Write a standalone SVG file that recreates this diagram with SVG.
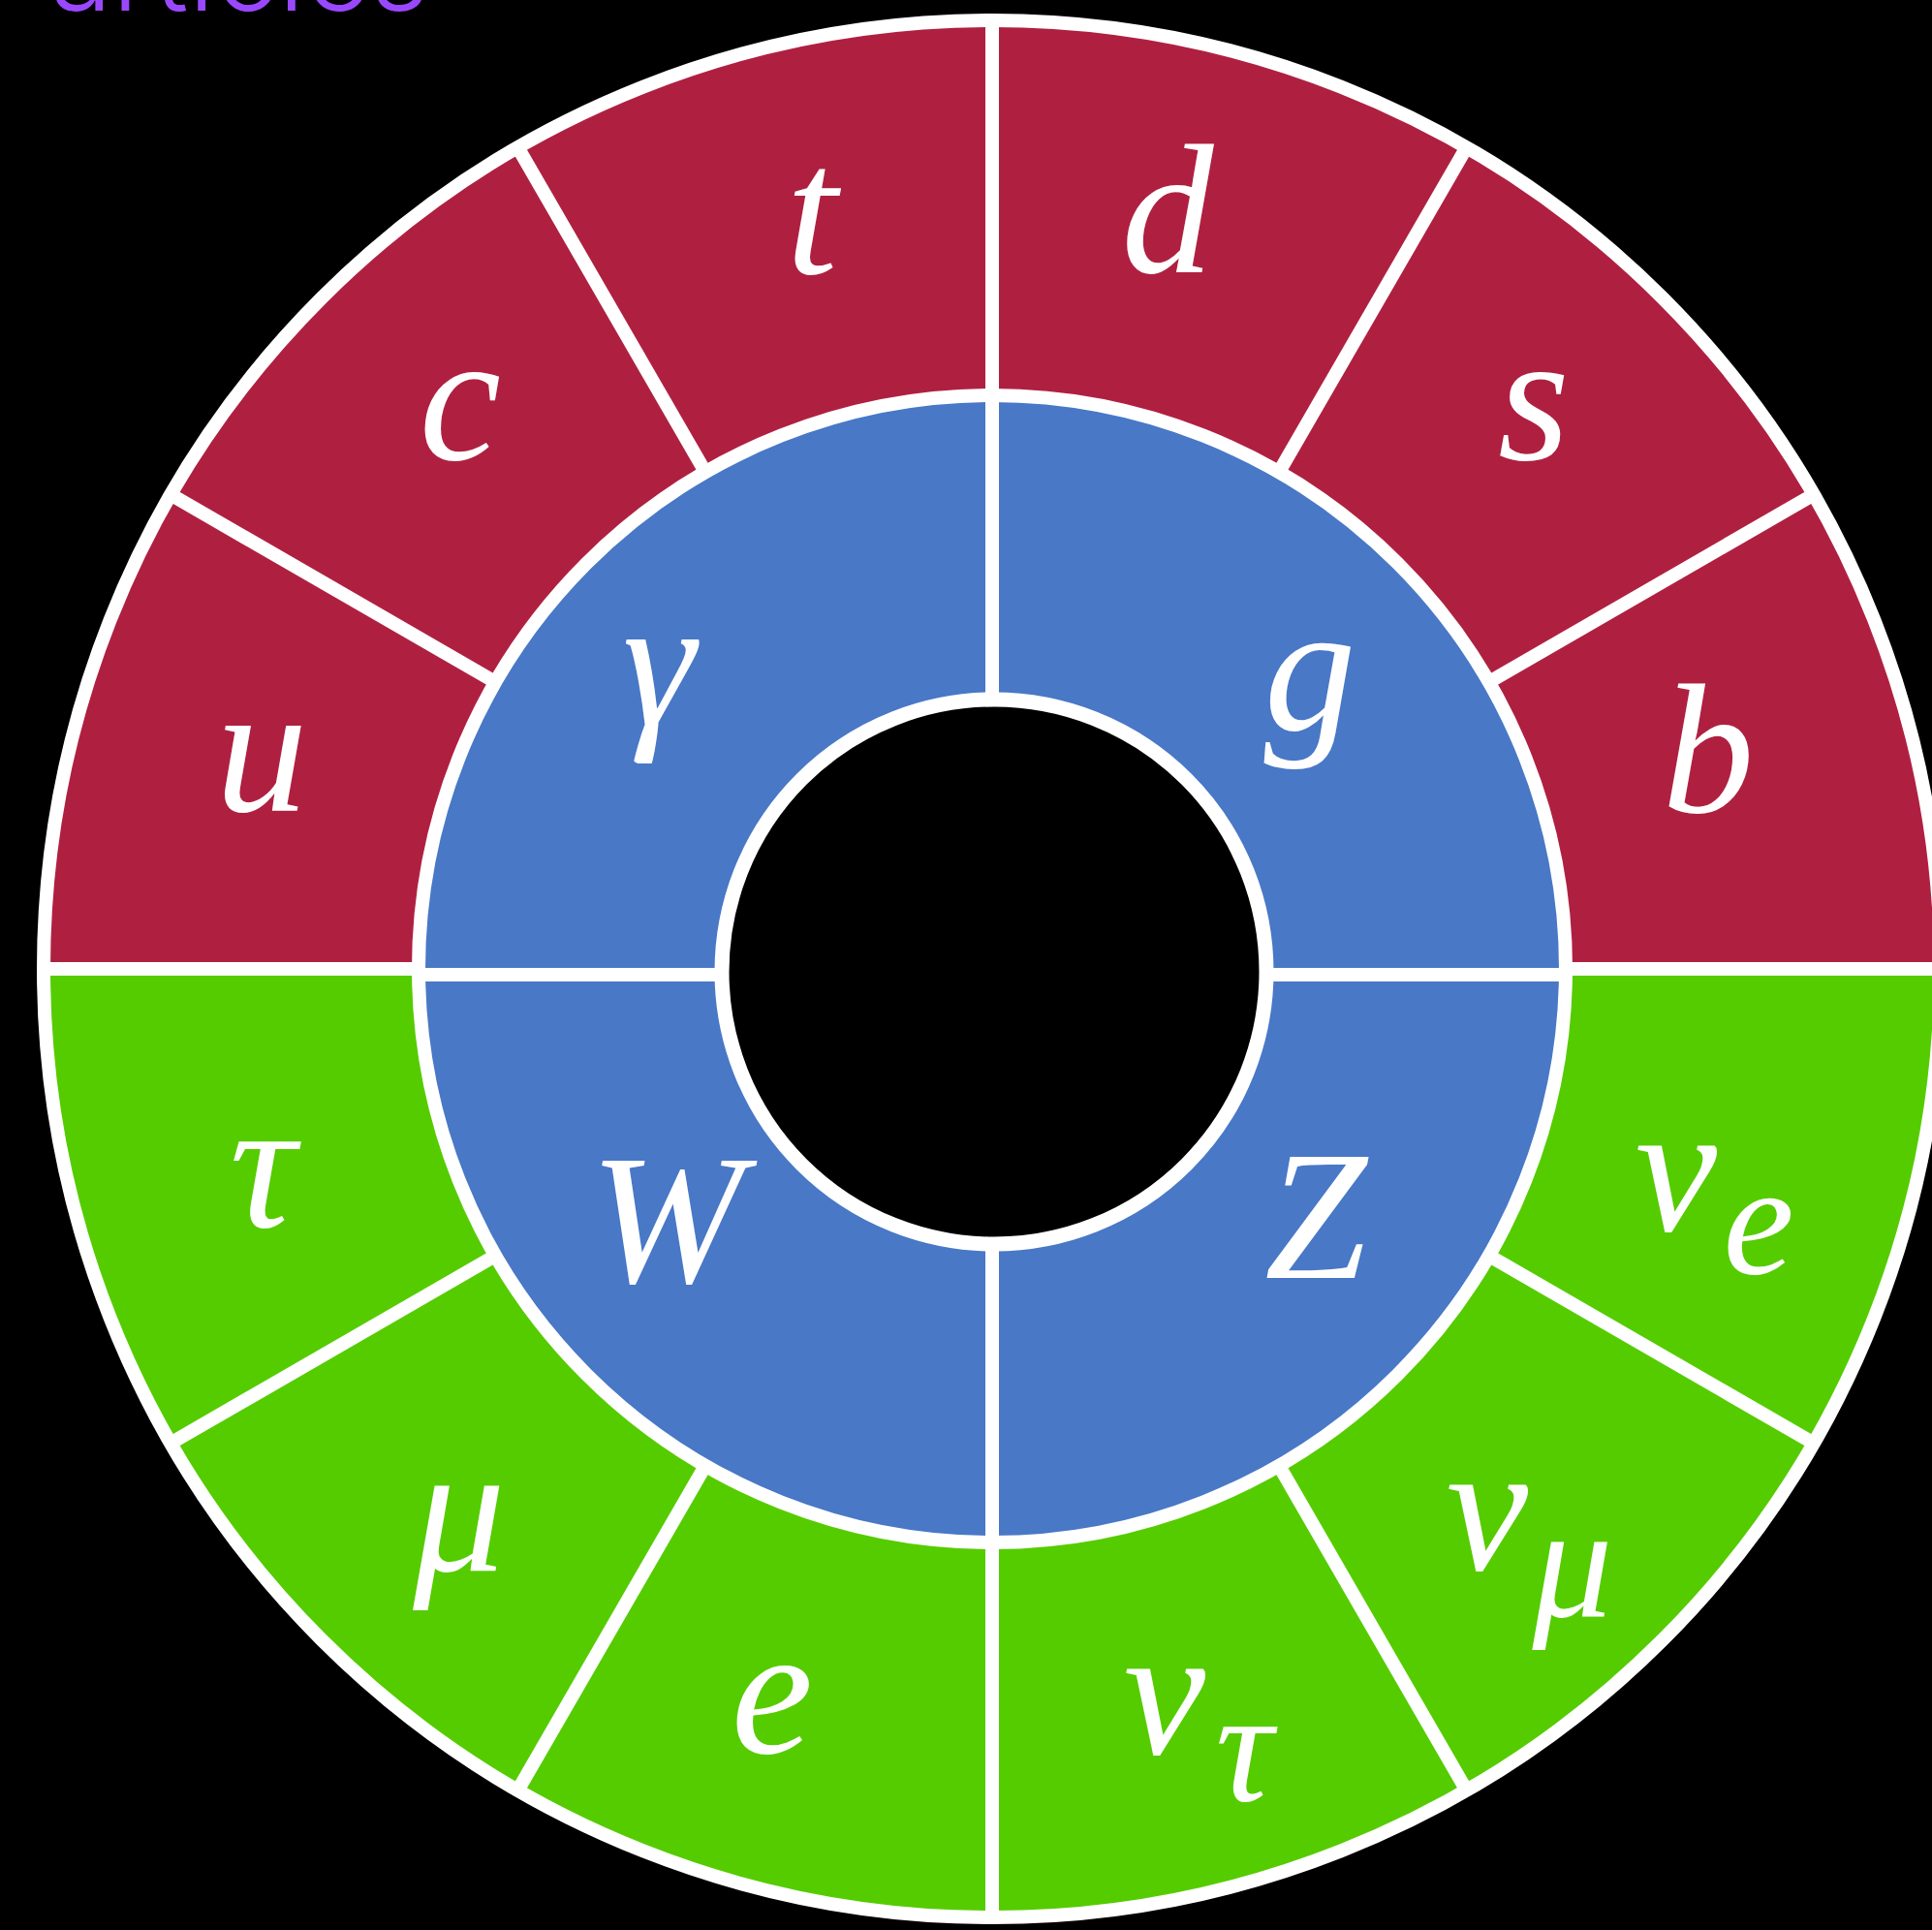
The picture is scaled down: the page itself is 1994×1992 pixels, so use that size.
<svg xmlns="http://www.w3.org/2000/svg" width="1994" height="1992" viewBox="0 0 1994 1992">
<style>
.red{fill:#AF2040}
.green{fill:#55CC00}
.blue{fill:#4878C6}
.lbl{font-family:"Liberation Serif","DejaVu Serif",serif;font-style:italic;fill:#fff;font-size:190px;text-anchor:middle}
.sub{font-size:165px}
.ln{stroke:#fff;stroke-width:14;fill:none;stroke-linecap:butt}
.title{font-family:Inter,"Liberation Sans",sans-serif;font-weight:300;font-size:117px;fill:#9A48FF}
</style>
<rect width="1994" height="1992" fill="#000"/>
<text class="title" x="-22" y="11">Particles</text>

<g id="quarks">
<g id="node-u"><path class="red" d="M45,1000 A979,979 0 0 1 176.2,510.5 L511.3,704 A592,592 0 0 0 432,1000 Z"/><text class="lbl" x="270" y="837">u</text></g>
<g id="node-c"><path class="red" d="M176.2,510.5 A979,979 0 0 1 534.5,152.2 L728,487.3 A592,592 0 0 0 511.3,704 Z"/><text class="lbl" x="475" y="474">c</text></g>
<g id="node-t"><path class="red" d="M534.5,152.2 A979,979 0 0 1 1024,21 L1024,408 A592,592 0 0 0 728,487.3 Z"/><text class="lbl" x="838" y="282">t</text></g>
<g id="node-d"><path class="red" d="M1024,21 A979,979 0 0 1 1513.5,152.2 L1320,487.3 A592,592 0 0 0 1024,408 Z"/><text class="lbl" x="1205" y="281">d</text></g>
<g id="node-s"><path class="red" d="M1513.5,152.2 A979,979 0 0 1 1871.8,510.5 L1536.7,704 A592,592 0 0 0 1320,487.3 Z"/><text class="lbl" x="1583" y="474">s</text></g>
<g id="node-b"><path class="red" d="M1871.8,510.5 A979,979 0 0 1 2003,1000 L1616,1000 A592,592 0 0 0 1536.7,704 Z"/><text class="lbl" x="1763" y="838">b</text></g>
</g>

<g id="leptons">
<g id="node-nu_e"><path class="green" d="M2003,1000 A979,979 0 0 1 1871.8,1489.5 L1536.7,1296 A592,592 0 0 0 1616,1000 Z"/><text class="lbl" x="1730" y="1270">ν</text><text class="lbl sub" x="1815" y="1314">e</text></g>
<g id="node-nu_mu"><path class="green" d="M1871.8,1489.5 A979,979 0 0 1 1513.5,1847.8 L1320,1512.7 A592,592 0 0 0 1536.7,1296 Z"/><text class="lbl" x="1535" y="1620">ν</text><text class="lbl sub" x="1623" y="1668">μ</text></g>
<g id="node-nu_tau"><path class="green" d="M1513.5,1847.8 A979,979 0 0 1 1024,1979 L1024,1592 A592,592 0 0 0 1320,1512.7 Z"/><text class="lbl" x="1202" y="1810">ν</text><text class="lbl sub" x="1284" y="1858">τ</text></g>
<g id="node-e"><path class="green" d="M1024,1979 A979,979 0 0 1 534.5,1847.8 L728,1512.7 A592,592 0 0 0 1024,1592 Z"/><text class="lbl" x="797" y="1809">e</text></g>
<g id="node-mu"><path class="green" d="M534.5,1847.8 A979,979 0 0 1 176.2,1489.5 L511.3,1296 A592,592 0 0 0 728,1512.7 Z"/><text class="lbl" x="474" y="1621">μ</text></g>
<g id="node-tau"><path class="green" d="M176.2,1489.5 A979,979 0 0 1 45,1000 L432,1000 A592,592 0 0 0 511.3,1296 Z"/><text class="lbl" x="271" y="1266">τ</text></g>
</g>

<g id="bosons">
<g id="node-gamma"><path class="blue" d="M1024,1003 L432,1003 A592,592 0 0 1 1024,408 Z"/><text class="lbl" x="680" y="747">γ</text></g>
<g id="node-g"><path class="blue" d="M1024,1003 L1024,408 A592,592 0 0 1 1616,1003 Z"/><text class="lbl" x="1352" y="753">g</text></g>
<g id="node-Z"><path class="blue" d="M1024,1003 L1616,1003 A592,592 0 0 1 1024,1592 Z"/><text class="lbl" x="1358" y="1319">Z</text></g>
<g id="node-W"><path class="blue" d="M1024,1003 L1024,1592 A592,592 0 0 1 432,1003 Z"/><text class="lbl" x="688" y="1323">W</text></g>
</g>

<g id="connectors">
<line class="ln" x1="1024" y1="21" x2="1024" y2="1979"/>
<line class="ln" x1="40" y1="1000" x2="432" y2="1000"/>
<line class="ln" x1="1616" y1="1000" x2="2010" y2="1000"/>
<line class="ln" x1="432" y1="1006" x2="1616" y2="1006"/>
<line class="ln" x1="176.2" y1="510.5" x2="511.3" y2="704"/>
<line class="ln" x1="534.5" y1="152.2" x2="728" y2="487.3"/>
<line class="ln" x1="1513.5" y1="152.2" x2="1320" y2="487.3"/>
<line class="ln" x1="1871.8" y1="510.5" x2="1536.7" y2="704"/>
<line class="ln" x1="1871.8" y1="1489.5" x2="1536.7" y2="1296"/>
<line class="ln" x1="1513.5" y1="1847.8" x2="1320" y2="1512.7"/>
<line class="ln" x1="534.5" y1="1847.8" x2="728" y2="1512.7"/>
<line class="ln" x1="176.2" y1="1489.5" x2="511.3" y2="1296"/>
<circle class="ln" cx="1024" cy="1000" r="592"/>
<circle class="ln" cx="1024" cy="1000" r="979" stroke-width="17"/>
<circle id="core" cx="1026" cy="1003" r="281" fill="#000" stroke="#fff" stroke-width="15"/>
</g>
</svg>
